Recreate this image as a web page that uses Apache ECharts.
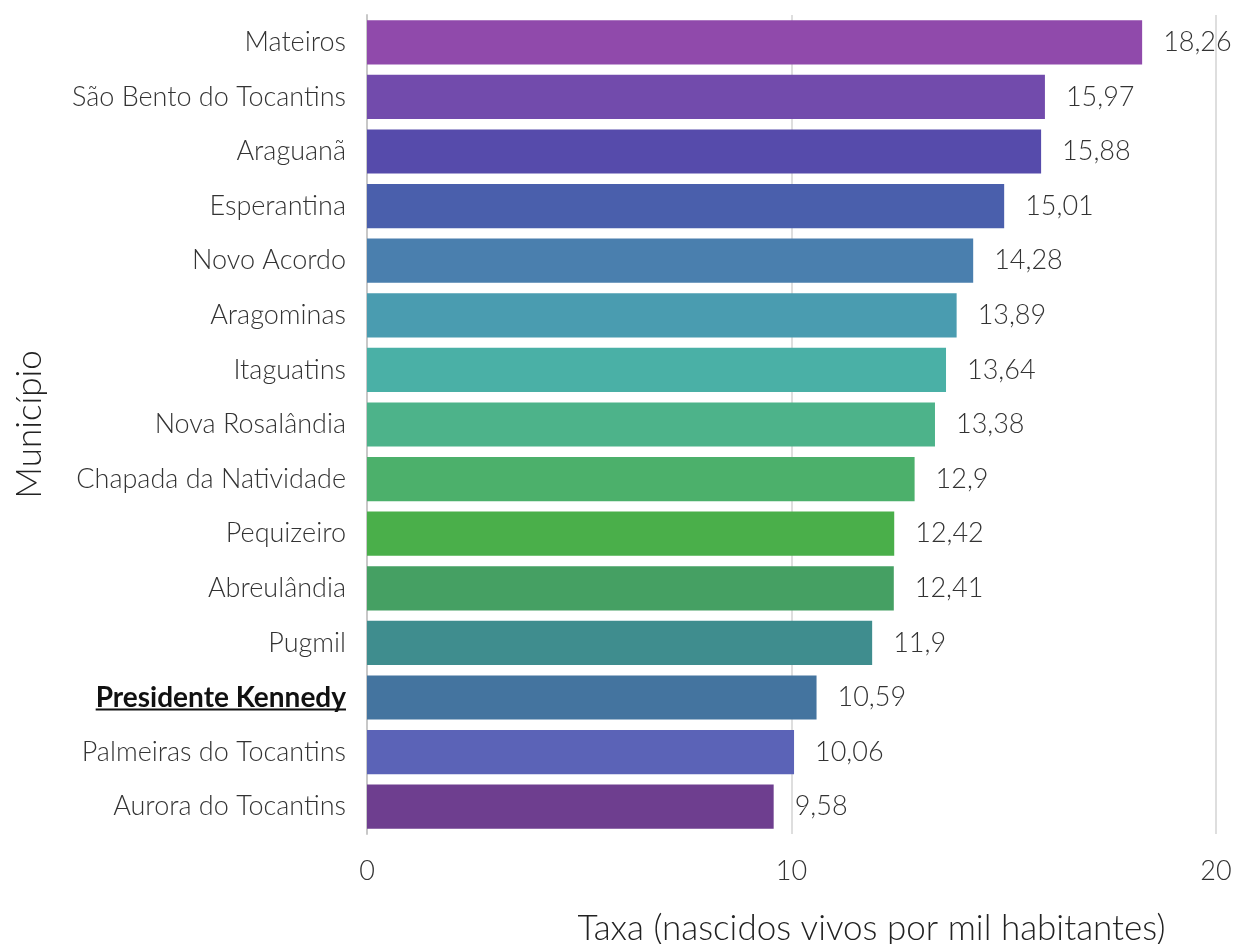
<!DOCTYPE html>
<html>
<head>
<meta charset="utf-8">
<script src="https://cdn.jsdelivr.net/npm/echarts@6/dist/echarts.min.js"></script>
<style>
  html, body { margin: 0; padding: 0; background: #fff; }
  #my_chart { width: 1235px; height: 944px; }
</style>
</head>
<body>
<div id="my_chart"></div>
<script>
// dados (de cima para baixo)
var municipios = ['Mateiros', 'São Bento do Tocantins', 'Araguanã', 'Esperantina', 'Novo Acordo',
    'Aragominas', 'Itaguatins', 'Nova Rosalândia', 'Chapada da Natividade', 'Pequizeiro',
    'Abreulândia', 'Pugmil', 'Presidente Kennedy', 'Palmeiras do Tocantins', 'Aurora do Tocantins'];
var taxas = [18.26, 15.97, 15.88, 15.01, 14.28, 13.89, 13.64, 13.38, 12.9, 12.42, 12.41, 11.9, 10.59, 10.06, 9.58];
var cores = ['#904AAB', '#724BAC', '#564BAB', '#4A5FAC', '#4A7FAE', '#4A9CB0', '#4AB0A6', '#4DB38A',
    '#4CB06B', '#4AAF4A', '#45A063', '#3F8D8E', '#44749F', '#5B63B7', '#6E3E8F'];
var destaque = 'Presidente Kennedy';

var myChart = echarts.init(document.getElementById('my_chart'));

var dados = [];
for (var i = 0; i < taxas.length; i++) {
    dados.push({ value: taxas[i], itemStyle: { color: cores[i] } });
}

var fonteLabel = 27;
var fonteDestaque = 28;
var margemLabel = 21;

var option = {
    animation: false,
    textStyle: { fontFamily: 'Lato' },
    grid: { left: 367, right: 19, top: 15, bottom: 110, containLabel: false, outerBoundsMode: 'none' },
    xAxis: {
        type: 'value',
        min: 0,
        max: 20,
        interval: 10,
        name: 'Taxa (nascidos vivos por mil habitantes)',
        nameLocation: 'middle',
        nameGap: 77,
        nameTextStyle: { fontFamily: 'Lato', fontWeight: 300, fontSize: 35, color: '#222', padding: [0, 0, 0, 160] },
        axisLine: { show: false },
        axisTick: { show: false },
        axisLabel: { fontFamily: 'Lato', fontWeight: 300, fontSize: 27, color: '#333', margin: 24 },
        splitLine: { show: true, lineStyle: { color: '#dedede', width: 2 } }
    },
    yAxis: {
        type: 'category',
        inverse: true,
        data: municipios,
        name: 'Município',
        nameLocation: 'middle',
        nameGap: 320,
        nameRotate: 90,
        nameTextStyle: { fontFamily: 'Lato', fontWeight: 300, fontSize: 35, color: '#222' },
        axisLine: { show: true, lineStyle: { color: '#c8c8c8', width: 2 } },
        axisTick: { show: false },
        axisLabel: {
            fontFamily: 'Lato',
            fontSize: fonteLabel,
            margin: margemLabel,
            formatter: function (v) {
                return v === destaque ? '{d|' + v + '}' : '{n|' + v + '}';
            },
            rich: {
                n: { fontFamily: 'Lato', fontWeight: 300, fontSize: fonteLabel, color: '#333' },
                d: { fontFamily: 'Lato', fontWeight: 'bold', fontSize: fonteDestaque, color: '#111' }
            }
        }
    },
    series: [{
        type: 'bar',
        data: dados,
        barCategoryGap: '19%',
        label: {
            show: true,
            position: 'right',
            distance: 21,
            fontFamily: 'Lato',
            fontWeight: 300,
            fontSize: 27,
            color: '#333',
            formatter: function (p) { return String(p.value).replace('.', ','); }
        }
    }]
};

myChart.setOption(option, true);

// sublinhado do município em destaque
var ctx = document.createElement('canvas').getContext('2d');
ctx.font = 'bold ' + fonteDestaque + 'px Lato';
var largura = ctx.measureText(destaque).width;
var yDestaque = myChart.convertToPixel({ yAxisIndex: 0 }, destaque);
var xFim = myChart.convertToPixel({ xAxisIndex: 0 }, 0) - margemLabel;
myChart.setOption({
    graphic: [{
        type: 'line',
        shape: { x1: xFim - largura, y1: yDestaque + 12, x2: xFim, y2: yDestaque + 12 },
        style: { stroke: '#111', lineWidth: 2 }
    }]
});
</script>
</body>
</html>
